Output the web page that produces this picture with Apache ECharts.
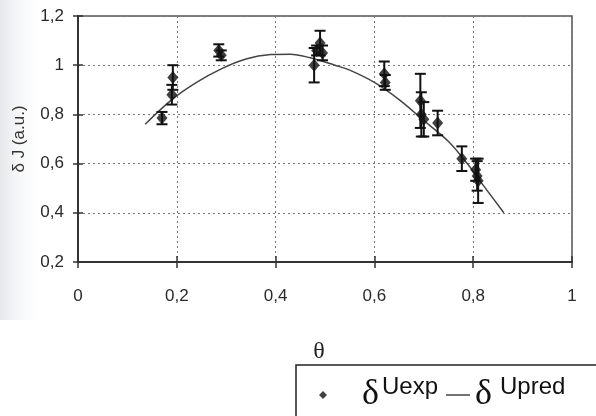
<!DOCTYPE html>
<html>
<head>
<meta charset="utf-8">
<script src="https://cdn.jsdelivr.net/npm/echarts@6/dist/echarts.min.js"></script>
<style>
html,body{margin:0;padding:0;background:#fff;}
#chart{width:596px;height:416px;}
</style>
</head>
<body>
<div id="chart"></div>
<script>
// Experimental points (theta, deltaJ, error half-width)
const expX   = [0.17, 0.192, 0.19, 0.285, 0.29, 0.478, 0.483, 0.49, 0.495, 0.62, 0.622, 0.693, 0.695, 0.70, 0.728, 0.777, 0.805, 0.808, 0.81];
const expY   = [0.785, 0.95, 0.88, 1.06, 1.04, 1.00, 1.06, 1.09, 1.05, 0.965, 0.93, 0.855, 0.80, 0.78, 0.765, 0.62, 0.575, 0.55, 0.53];
const expErr = [0.025, 0.05, 0.04, 0.025, 0.02, 0.07, 0.02, 0.05, 0.03, 0.05, 0.03, 0.11, 0.09, 0.07, 0.05, 0.05, 0.045, 0.06, 0.09];
// Predicted curve
const predX = [0.136, 0.19, 0.24, 0.29, 0.34, 0.39, 0.43, 0.47, 0.52, 0.55, 0.6, 0.65, 0.7, 0.75, 0.79, 0.81, 0.862];
const predY = [0.76, 0.86, 0.93, 0.985, 1.025, 1.043, 1.045, 1.03, 1.0, 0.98, 0.93, 0.86, 0.775, 0.69, 0.595, 0.54, 0.4];
// Axis ticks
const xTicks = [0, 0.2, 0.4, 0.6, 0.8, 1];
const xTickLabels = ['0', '0,2', '0,4', '0,6', '0,8', '1'];
const yTicks = [0.2, 0.4, 0.6, 0.8, 1, 1.2];
const yTickLabels = ['0,2', '0,4', '0,6', '0,8', '1', '1,2'];
const seriesNames = ['δUexp', 'δUpred'];
const xName = 'θ';
const yName = 'δ J (a.u.)';

function tickLabel(ticks, labels) {
  return function (v) {
    for (let i = 0; i < ticks.length; i++) if (Math.abs(ticks[i] - v) < 1e-6) return labels[i];
    return '';
  };
}

const chart = echarts.init(document.getElementById('chart'), null, {renderer: 'canvas'});
const axisFont = {fontFamily: 'Liberation Sans, Arial, sans-serif', fontSize: 17, color: '#2a2a2a'};

const option = {
  backgroundColor: '#ffffff',
  animation: false,
  graphic: [{
    type: 'rect', left: 0, top: 0, z: -10,
    shape: {width: 46, height: 320},
    style: {fill: new echarts.graphic.LinearGradient(0, 0, 1, 0, [
      {offset: 0, color: 'rgba(170,175,190,0.30)'},
      {offset: 1, color: 'rgba(255,255,255,0)'}
    ])}
  }],
  grid: {left: 78, right: 24, top: 16, bottom: 154, show: true, borderColor: '#555', borderWidth: 1.5, backgroundColor: 'transparent'},
  xAxis: [{
    type: 'value', min: 0, max: 1, interval: 0.2,
    name: xName, nameLocation: 'middle', nameGap: 78,
    nameTextStyle: {fontFamily: 'Liberation Serif, serif', fontSize: 24, color: '#222', padding: [0, 12, 0, 0]},
    axisLine: {show: true, lineStyle: {color: '#333', width: 2}},
    axisTick: {show: true, length: 6, lineStyle: {color: '#333', width: 1.5}},
    axisLabel: Object.assign({margin: 26, formatter: tickLabel(xTicks, xTickLabels)}, axisFont),
    splitLine: {show: true, lineStyle: {color: '#777', type: [2, 3], width: 1}}
  }, {
    type: 'value', min: 0, max: 1, interval: 0.2, position: 'bottom',
    axisLine: {show: false}, axisLabel: {show: false}, splitLine: {show: false},
    axisTick: {show: true, inside: true, length: 6, lineStyle: {color: '#333', width: 1.5}}
  }],
  yAxis: [{
    type: 'value', min: 0.2, max: 1.2, interval: 0.2,
    name: yName, nameLocation: 'middle', nameGap: 50, nameRotate: 90,
    nameTextStyle: {fontFamily: 'Liberation Sans, Arial, sans-serif', fontSize: 17, color: '#333'},
    axisLine: {show: true, lineStyle: {color: '#333', width: 2}},
    axisTick: {show: true, length: 5, lineStyle: {color: '#333', width: 1.5}},
    axisLabel: Object.assign({margin: 14, formatter: tickLabel(yTicks, yTickLabels)}, axisFont),
    splitLine: {show: true, lineStyle: {color: '#777', type: [2, 3], width: 1}}
  }, {
    type: 'value', min: 0.2, max: 1.2, interval: 0.2, position: 'left',
    axisLine: {show: false}, axisLabel: {show: false}, splitLine: {show: false},
    axisTick: {show: true, inside: true, length: 5, lineStyle: {color: '#333', width: 1.5}}
  }],
  legend: {
    data: [
      {name: seriesNames[0], icon: 'path://M5,0L10,5L5,10L0,5Z'},
      {name: seriesNames[1], icon: 'path://M0,0L24,0L24,1.5L0,1.5Z'}
    ],
    left: 296, top: 365, width: 700, orient: 'horizontal',
    padding: [10, 140, 40, 23],
    itemWidth: 24, itemHeight: 8, itemGap: 8,
    borderColor: '#222', borderWidth: 1.5, borderRadius: 0,
    selectedMode: false,
    formatter: function (n) {
      return n === seriesNames[0] ? '{d1|δ}{s|Uexp}' : '{d|δ}{s|Upred}';
    },
    textStyle: {
      color: '#111',
      rich: {
        d1: {fontFamily: 'Liberation Serif, serif', fontSize: 36, lineHeight: 40, color: '#111', padding: [0, 3, 0, 22]},
        d: {fontFamily: 'Liberation Serif, serif', fontSize: 36, lineHeight: 40, color: '#111', padding: [0, 8, 0, 0]},
        s: {fontFamily: 'Liberation Sans, Arial, sans-serif', fontSize: 24, lineHeight: 31, verticalAlign: 'top', color: '#111'}
      }
    }
  },
  series: [{
    name: seriesNames[1], type: 'line', smooth: 0.35, symbol: 'none',
    data: predX.map((x, i) => [x, predY[i]]),
    lineStyle: {color: '#444', width: 1.5}, itemStyle: {color: '#444'}, z: 2
  }, {
    name: 'err', type: 'custom',
    data: expX.map((x, i) => [x, expY[i], expErr[i]]),
    encode: {x: 0, y: 1},
    renderItem: function (params, api) {
      const x = api.value(0), y = api.value(1), e = api.value(2);
      const hi = api.coord([x, y + e]), lo = api.coord([x, y - e]);
      const w = 5.5;
      const st = {stroke: '#111', lineWidth: 2};
      return {type: 'group', children: [
        {type: 'line', shape: {x1: hi[0], y1: hi[1], x2: lo[0], y2: lo[1]}, style: st},
        {type: 'line', shape: {x1: hi[0] - w, y1: hi[1], x2: hi[0] + w, y2: hi[1]}, style: st},
        {type: 'line', shape: {x1: lo[0] - w, y1: lo[1], x2: lo[0] + w, y2: lo[1]}, style: st}
      ]};
    },
    z: 3
  }, {
    name: seriesNames[0], type: 'scatter', symbol: 'diamond', symbolSize: [11, 13],
    data: expX.map((x, i) => [x, expY[i]]),
    itemStyle: {color: '#111'}, z: 4
  }]
};
chart.setOption(option);
</script>
</body>
</html>
